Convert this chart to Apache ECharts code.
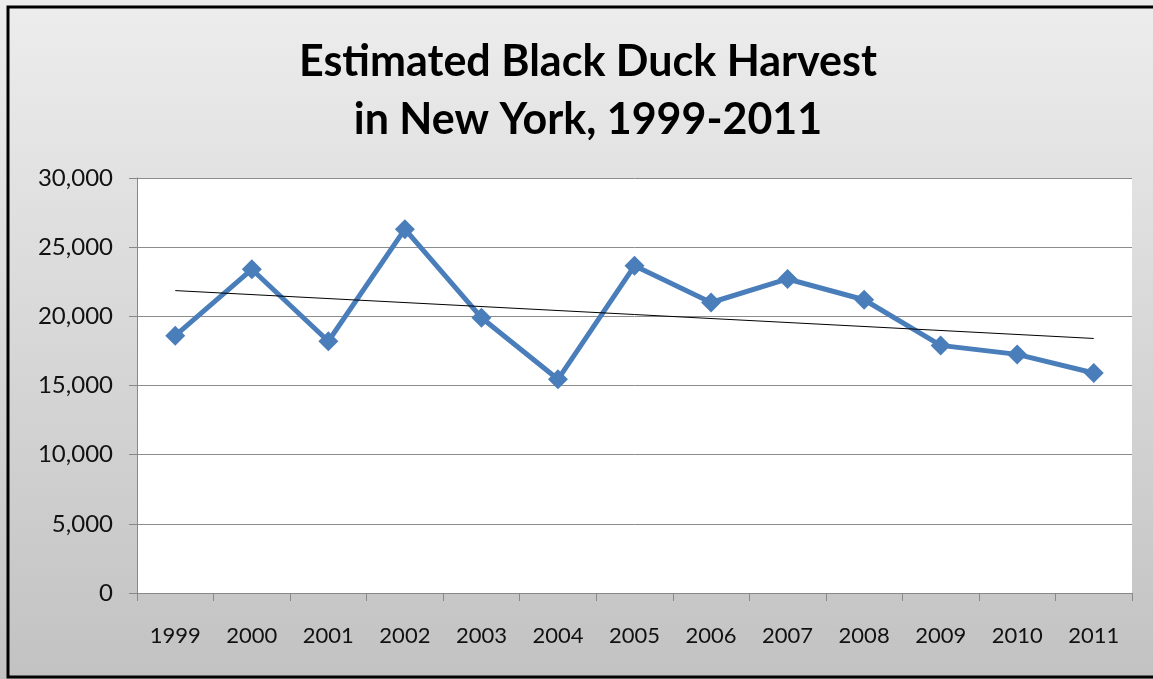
<!DOCTYPE html>
<html>
<head>
<meta charset="utf-8">
<script src="https://cdn.jsdelivr.net/npm/echarts@6/dist/echarts.min.js"></script>
<style>
  html, body { margin: 0; padding: 0; background: #fff; }
  #chart { width: 1153px; height: 679px; }
</style>
</head>
<body>
<div id="chart"></div>
<script>
// years on the x axis
const years = ['1999', '2000', '2001', '2002', '2003', '2004', '2005', '2006', '2007', '2008', '2009', '2010', '2011']
// estimated harvest
const harvest = [18600, 23400, 18200, 26300, 19900, 15450, 23650, 21000, 22700, 21200, 17900, 17250, 15900]
// trend line ends (1999, 2011)
const trendEnds = [21860, 18400]
const yTicks = [0, 5000, 10000, 15000, 20000, 25000, 30000]

const trend = years.map((y, i) => i === 0 ? trendEnds[0] : (i === years.length - 1 ? trendEnds[1] : null))

const chart = echarts.init(document.getElementById('chart'))
const option = {
    animation: false,
    backgroundColor: {
        type: 'linear', x: 0, y: 0, x2: 0, y2: 1,
        colorStops: [
            { offset: 0, color: '#ededed' },
            { offset: 1, color: '#c2c2c2' },
        ],
    },
    graphic: [
        {
            type: 'rect',
            shape: { x: 8, y: 7, width: 1170, height: 670 },
            style: { fill: 'none', stroke: '#000', lineWidth: 3 },
            z: 100,
        },
    ],
    title: {
        text: 'Estimated Black Duck Harvest\nin New York, 1999-2011',
        left: 583,
        textAlign: 'center',
        top: 28,
        textStyle: {
            fontFamily: 'Lato',
            fontWeight: 'bold',
            fontSize: 43,
            lineHeight: 58,
            color: '#000',
        },
    },
    grid: {
        left: 137,
        right: 21,
        top: 178,
        bottom: 86,
        show: true,
        backgroundColor: '#fff',
        borderWidth: 0,
    },
    xAxis: {
        type: 'category',
        data: years,
        boundaryGap: true,
        axisLine: { lineStyle: { color: '#888', width: 1 } },
        axisTick: { show: true, length: 8, lineStyle: { color: '#888' } },
        axisLabel: { margin: 32, fontFamily: 'Lato', fontSize: 22, color: '#111' },
    },
    yAxis: {
        type: 'value',
        min: 0,
        max: 30000,
        interval: 5000,
        axisLine: { show: true, lineStyle: { color: '#888', width: 1 } },
        axisTick: { show: true, length: 8, lineStyle: { color: '#888' } },
        splitLine: { lineStyle: { color: '#8c8c8c', width: 1 } },
        axisLabel: {
            margin: 24,
            fontFamily: 'Lato',
            fontSize: 24,
            color: '#111',
            formatter: v => yTicks.includes(v) ? v.toLocaleString('en-US') : '',
        },
    },
    series: [
        {
            type: 'line',
            data: harvest,
            symbol: 'diamond',
            symbolSize: 20,
            lineStyle: { color: '#4a7ebb', width: 5 },
            itemStyle: { color: '#4a7ebb' },
            z: 3,
        },
        {
            type: 'line',
            data: trend,
            connectNulls: true,
            symbol: 'none',
            lineStyle: { color: '#000', width: 1 },
            z: 4,
        },
    ],
}
chart.setOption(option)
</script>
</body>
</html>
